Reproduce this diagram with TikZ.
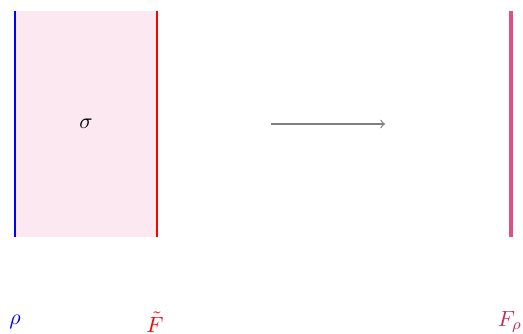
\documentclass[tikz,border=0pt]{standalone}
\begin{document}
\begin{tikzpicture}[x=0.4545pt,y=-0.4545pt,
  lbl/.style={inner sep=0pt},
  edge/.style={line width=0.5pt}]
\useasboundingbox (0,0) rectangle (523,333);
\definecolor{pinkfill}{RGB}{251,232,240}
\definecolor{mixline}{RGB}{224,80,134}
\definecolor{mixtext}{RGB}{200,40,100}
\definecolor{arrowgray}{RGB}{128,128,128}
\coordinate (lt) at (15,11);
\coordinate (lb) at (15,237);
\coordinate (rt) at (157,11);
\coordinate (rb) at (157,237);
\coordinate (ft) at (511,11);
\coordinate (fb) at (511,237);
\fill[pinkfill] (lt) rectangle (rb);
\draw[edge,blue] (lt) -- (lb);
\draw[edge,red] (rt) -- (rb);
\draw[mixline,line width=1.4pt] (ft) -- (fb);
\node[lbl] (sigma) at (86,124) {$\sigma$};
\coordinate (a1) at (271,124);
\coordinate (a2) at (385,124);
\draw[arrowgray,line width=0.55pt,->] (a1) -- (a2);
\node[lbl,text=blue] (rho) at (15,322) {$\rho$};
\node[lbl,text=red] (Ft) at (155,322) {$\tilde{F}$};
\node[lbl,text=mixtext] (Frho) at (510,322) {$F_\rho$};
\end{tikzpicture}
\end{document}
